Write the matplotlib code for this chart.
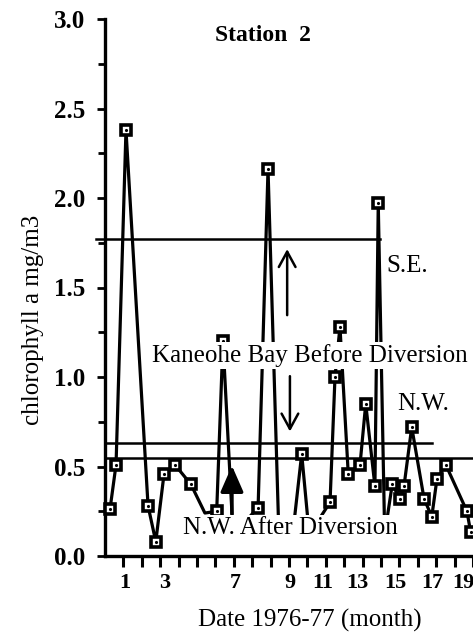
import matplotlib
matplotlib.use("Agg")
import matplotlib.pyplot as plt
import numpy as np

plt.rcParams['font.family'] = ['Liberation Serif', 'DejaVu Serif']

# data (month since start, chlorophyll a mg/m3)
month = [0.27, 0.60, 1.14, 2.34, 2.76, 3.21, 3.80, 4.67, 5.43, 6.07, 6.41, 6.96,
         8.32, 8.86, 9.45, 10.2, 10.69, 11.1, 12.23, 12.5, 12.77, 13.22, 13.86,
         14.17, 14.67, 14.85, 15.2, 15.61, 16.03, 16.25, 16.67, 17.34, 17.76,
         18.04, 18.52, 19.67, 19.87]
chl = [0.26, 0.51, 2.38, 0.28, 0.08, 0.46, 0.51, 0.40, 0.24, 0.25, 1.20, 0.12,
       0.27, 2.16, 0.12, 0.12, 0.57, 0.12, 0.30, 1.00, 1.28, 0.46, 0.51,
       0.85, 0.39, 1.97, 0.12, 0.40, 0.32, 0.39, 0.72, 0.32, 0.22,
       0.43, 0.51, 0.25, 0.135]
# vertices with no square drawn (hidden under the labels)
no_marker = [8, 11, 14, 15, 17, 26]

# mean levels
se_before = 1.77
nw_before = 0.63
nw_after = 0.545
se_end = 14.95
nw_before_end = 17.75

xtick_labels = ['1', '3', '5', '7', '9', '11', '13', '15', '17', '19']
xtick_pos = [1.09, 3.26, 5.0, 7.07, 10.05, 11.85, 13.7, 15.76, 17.77, 19.46]

fig = plt.figure(figsize=(4.73, 6.37), dpi=100)
ax = fig.add_axes([105/473, 1 - 556/637, 1 - 105/473, (556 - 19)/637])
ax.set_xlim(0, 20)
ax.set_ylim(0, 3)

marked = [i for i in range(len(month)) if i not in no_marker]
ax.plot(month, chl, color='black', lw=2.3, marker='s', ms=7, mfc='white',
        mec='black', mew=2.6, markevery=marked, zorder=3, clip_on=False)
ax.plot([month[i] for i in marked], [chl[i] for i in marked], ls='none',
        marker='.', ms=2.5, color='black', zorder=4, clip_on=False)

ax.plot([-0.5, se_end], [se_before, se_before], color='black', lw=1.8, zorder=2, clip_on=False)
ax.plot([0, nw_before_end], [nw_before, nw_before], color='black', lw=1.8, zorder=2)
ax.plot([0, 20], [nw_after, nw_after], color='black', lw=1.8, zorder=2)

# arrows
ax.annotate('', xy=(9.9, 1.73), xytext=(9.9, 1.33),
            arrowprops=dict(arrowstyle='->,head_length=1.1,head_width=0.6', lw=1.8, color='black'))
ax.annotate('', xy=(10.05, 0.68), xytext=(10.05, 1.02),
            arrowprops=dict(arrowstyle='->,head_length=1.1,head_width=0.6', lw=1.8, color='black'))
ax.annotate('', xy=(6.9, 0.52), xytext=(6.9, 0.22),
            arrowprops=dict(arrowstyle='-|>,head_length=1.6,head_width=0.7', lw=2.5, color='black'),
            zorder=5)

# labels on the plot
box = dict(facecolor='white', edgecolor='none', pad=1.5)
ax.text(2.55, 1.12, 'Kaneohe Bay Before Diversion', fontsize=18, ha='left', va='center',
        bbox=box, zorder=6)
ax.text(4.24, 0.155, 'N.W. After Diversion', fontsize=18, ha='left', va='center',
        bbox=box, zorder=6)
ax.text(15.27, 1.62, 'S.E.', fontsize=18, ha='left', va='center', zorder=6)
ax.text(15.9, 0.85, 'N.W.', fontsize=18, ha='left', va='center', zorder=6)
ax.text(8.6, 2.91, 'Station  2', fontsize=17, fontweight='bold', ha='center', va='center')

for s in ['top', 'right']:
    ax.spines[s].set_visible(False)
for s in ['left', 'bottom']:
    ax.spines[s].set_linewidth(2.4)

ax.set_yticks(np.arange(0, 3.01, 0.5))
ax.set_yticklabels(['%.1f' % v for v in np.arange(0, 3.01, 0.5)])
ax.set_yticks(np.arange(0.25, 3, 0.5), minor=True)
ax.tick_params(axis='y', which='major', direction='out', length=6, width=2, pad=8,
               labelsize=18)
ax.tick_params(axis='y', which='minor', direction='out', length=5, width=2)
for t in ax.get_yticklabels():
    t.set_fontweight('bold')

ax.set_xticks(np.arange(1, 21))
ax.set_xticklabels([])
ax.tick_params(axis='x', which='major', direction='out', length=8, width=2.2)
ax.set_xticks(xtick_pos, minor=True)
ax.set_xticklabels(xtick_labels, minor=True)
ax.tick_params(axis='x', which='minor', length=0, pad=12, labelsize=16)
for t in ax.get_xticklabels(minor=True):
    t.set_fontweight('bold')

fig.text(310/473, 1 - 620/637, 'Date 1976-77 (month)', fontsize=18, ha='center', va='center')
fig.text(33/473, 1 - 320/637, 'chlorophyll a mg/m3', fontsize=18, ha='center', va='center',
         rotation=90)

fig.savefig('out.png', dpi=100)
